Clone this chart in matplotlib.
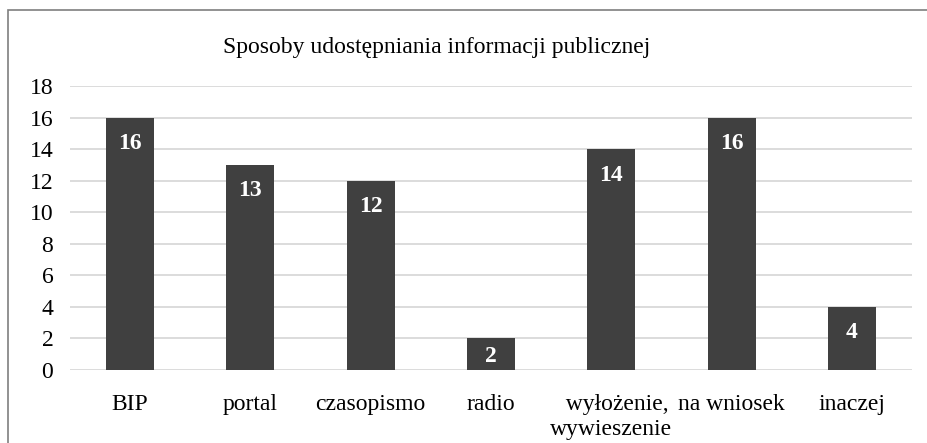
import matplotlib
matplotlib.use("Agg")
import matplotlib.pyplot as plt
from matplotlib.patches import Rectangle

categories = ["BIP", "portal", "czasopismo", "radio", "  wyłożenie,\nwywieszenie", "na wniosek", "inaczej"]
values = [16, 13, 12, 2, 14, 16, 4]
yticks = [0, 2, 4, 6, 8, 10, 12, 14, 16, 18]

plt.rcParams['font.family'] = ['Liberation Serif', 'DejaVu Serif']

fig = plt.figure(figsize=(9.27, 4.43), dpi=100)
ax = fig.add_axes([70 / 927, 1 - 370 / 443, (912 - 70) / 927, (370 - 86) / 443])

bar_color = '#404040'
x = range(len(categories))
bars = ax.bar(x, values, width=0.4, color=bar_color, zorder=3)

ax.set_xlim(-0.5, len(categories) - 0.5)
ax.set_ylim(0, 18)

# value labels inside the top of each bar (short bars: centred)
px_per_unit = (370 - 86) / 18
for b, v in zip(bars, values):
    off = min(26, v * px_per_unit / 2 + 2)
    ax.annotate(str(v), (b.get_x() + b.get_width() / 2, v),
                xytext=(0, -off), textcoords='offset pixels',
                ha='center', va='center', color='white', fontsize=17, fontweight='bold',
                zorder=4)

ax.set_yticks(yticks)
ax.set_xticks(list(x))
ax.set_xticklabels(categories, fontsize=17, linespacing=1.25)
ax.tick_params(axis='y', labelsize=17, length=0, pad=12)
ax.tick_params(axis='x', length=0, pad=17)
ax.grid(axis='y', color='#d9d9d9', linewidth=1.3, zorder=0)
for s in ax.spines.values():
    s.set_visible(False)

fig.text(437 / 927, 1 - 47 / 443, "Sposoby udostępniania informacji publicznej",
         ha='center', va='center', fontsize=17)

fig.patches.append(Rectangle((8 / 927, -0.1), 1.1, 1 - 10 / 443 + 0.1,
                             transform=fig.transFigure, fill=False,
                             edgecolor='#7f7f7f', linewidth=1.2))

fig.savefig("out.png", dpi=100)
